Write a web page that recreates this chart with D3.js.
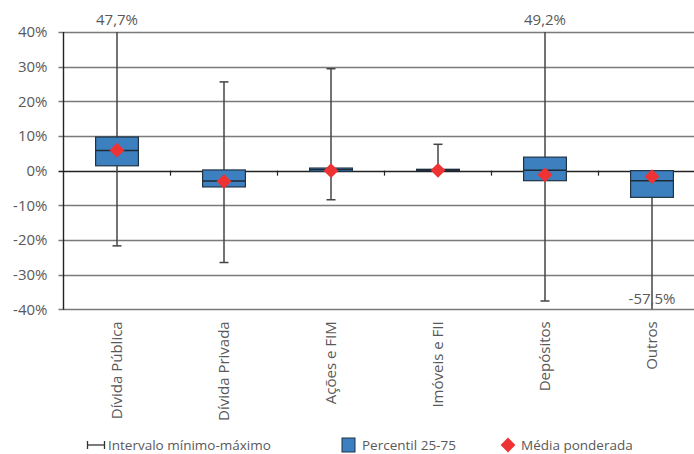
<!DOCTYPE html>
<html>
<head>
<meta charset="utf-8">
<script src="https://cdn.jsdelivr.net/npm/d3@7/dist/d3.min.js"></script>
<style>
  html, body { margin: 0; padding: 0; background: #fff; }
  svg { display: block; }
  text { font-family: "Open Sans", "Noto Sans", sans-serif; fill: #595959; }
</style>
</head>
<body>
<svg id="chart" width="694" height="454"></svg>
<script>
// Distribution of returns by asset class (%)
const categories = ["Dívida Pública", "Dívida Privada", "Ações e FIM", "Imóveis e FII", "Depósitos", "Outros"];
const minValues  = [-21.7, -26.5, -8.4, 0.0, -37.6, -57.5];
const p25Values  = [1.4, -4.7, -0.2, 0.0, -2.9, -7.7];
const medValues  = [5.8, -3.0, 0.3, 0.2, 0.1, -2.9];
const p75Values  = [9.7, 0.2, 0.75, 0.4, 3.9, 0.0];
const maxValues  = [47.7, 25.6, 29.4, 7.6, 49.2, 0.0];
const meanValues = [5.9, -3.1, 0.0, 0.1, -1.2, -1.7];
const yTicks = [-40, -30, -20, -10, 0, 10, 20, 30, 40];
const legendLabels = ["Intervalo mínimo-máximo", "Percentil 25-75", "Média ponderada"];

const rows = categories.map((c, i) => ({
  cat: c, min: minValues[i], p25: p25Values[i], med: medValues[i],
  p75: p75Values[i], max: maxValues[i], mean: meanValues[i]
}));

const svg = d3.select("#chart");
const plotLeft = 63.5, plotRight = 705.5, plotTop = 32, plotBottom = 309.3;

const x = d3.scaleBand().domain(categories).range([plotLeft, plotRight]);
const y = d3.scaleLinear().domain([-40, 40]).range([plotBottom, plotTop]);
const yc = v => y(Math.max(-40, Math.min(40, v)));
const fmt = v => v.toFixed(1).replace(".", ",") + "%";

// Horizontal gridlines
svg.append("g").selectAll("line").data(yTicks).join("line")
  .attr("x1", plotLeft - 5).attr("x2", 694)
  .attr("y1", d => Math.round(y(d)) + 0.5).attr("y2", d => Math.round(y(d)) + 0.5)
  .attr("stroke", d => d === 0 ? "#222" : "#7a7a7a")
  .attr("stroke-width", 1.4);

// Y axis labels
const yAxis = d3.axisLeft(y).tickValues(yTicks).tickSize(0).tickPadding(16)
  .tickFormat(d => d + "%");
const gy = svg.append("g").attr("transform", `translate(${plotLeft},0)`).call(yAxis);
gy.select(".domain").remove();
gy.selectAll("text").attr("font-size", 15).style("fill", "#595959")
  .attr("font-family", "'Open Sans', sans-serif");

// Y axis line
svg.append("line").attr("x1", plotLeft).attr("x2", plotLeft)
  .attr("y1", plotTop).attr("y2", plotBottom + 0.5)
  .attr("stroke", "#222").attr("stroke-width", 1.4);

// Category ticks on the zero line
const bounds = d3.range(1, categories.length).map(i => plotLeft + i * x.step());
svg.append("g").selectAll("line").data(bounds).join("line")
  .attr("x1", d => d).attr("x2", d => d)
  .attr("y1", y(0)).attr("y2", y(0) + 5)
  .attr("stroke", "#222").attr("stroke-width", 1.2);

// X labels, rotated
svg.append("g").selectAll("text").data(categories).join("text")
  .attr("transform", d => `translate(${x(d) + x.bandwidth() / 2},${plotBottom + 12}) rotate(-90)`)
  .attr("text-anchor", "end").attr("dy", "0.35em")
  .attr("font-size", 15)
  .text(d => d);

const cx = d => x(d.cat) + x.bandwidth() / 2;
const boxW = x.bandwidth() * 0.4;

// Whiskers
const g = svg.append("g");
g.selectAll(".whisker").data(rows).join("line").attr("class", "whisker")
  .attr("x1", cx).attr("x2", cx)
  .attr("y1", d => yc(d.min)).attr("y2", d => yc(d.max))
  .attr("stroke", "#444").attr("stroke-width", 1.5);

// Caps on whisker ends that fall inside the axis range
const caps = [];
rows.forEach(d => {
  if (d.max < 40 && d.max > d.p75) caps.push({ d, v: d.max });
  if (d.min > -40 && d.min < d.p25) caps.push({ d, v: d.min });
});
g.selectAll(".cap").data(caps).join("line").attr("class", "cap")
  .attr("x1", c => cx(c.d) - 4.5).attr("x2", c => cx(c.d) + 4.5)
  .attr("y1", c => y(c.v)).attr("y2", c => y(c.v))
  .attr("stroke", "#444").attr("stroke-width", 1.5);

// Interquartile boxes
g.selectAll(".box").data(rows).join("rect").attr("class", "box")
  .attr("x", d => cx(d) - boxW / 2).attr("width", boxW)
  .attr("y", d => y(d.p75)).attr("height", d => Math.max(1, y(d.p25) - y(d.p75)))
  .attr("fill", "#3d80c0").attr("stroke", "#1f3345").attr("stroke-width", 1.2);

// Medians
g.selectAll(".median").data(rows).join("line").attr("class", "median")
  .attr("x1", d => cx(d) - boxW / 2).attr("x2", d => cx(d) + boxW / 2)
  .attr("y1", d => y(d.med)).attr("y2", d => y(d.med))
  .attr("stroke", "#1f2a35").attr("stroke-width", 1.4);

// Weighted means
const diamond = d3.symbol().type(d3.symbolSquare).size(110);
g.selectAll(".mean").data(rows).join("path").attr("class", "mean")
  .attr("transform", d => `translate(${cx(d)},${y(d.mean)}) rotate(45)`)
  .attr("d", diamond)
  .attr("fill", "#ee3334");

// Labels for values beyond the axis range
const outLabels = [];
rows.forEach(d => {
  if (d.max > 40) outLabels.push({ d, v: d.max, ypos: plotTop - 12 });
  if (d.min < -40) outLabels.push({ d, v: d.min, ypos: plotBottom - 11 });
});
svg.append("g").selectAll("text").data(outLabels).join("text")
  .attr("x", o => cx(o.d)).attr("y", o => o.ypos)
  .attr("text-anchor", "middle").attr("dy", "0.35em")
  .attr("font-size", 15)
  .text(o => fmt(o.v));

// Legend
const lg = svg.append("g").attr("transform", "translate(0,445)");
lg.append("line").attr("x1", 87).attr("x2", 105).attr("y1", 0).attr("y2", 0)
  .attr("stroke", "#333").attr("stroke-width", 1.3);
lg.append("line").attr("x1", 87.5).attr("x2", 87.5).attr("y1", -4).attr("y2", 4)
  .attr("stroke", "#333").attr("stroke-width", 1.3);
lg.append("line").attr("x1", 104.5).attr("x2", 104.5).attr("y1", -4).attr("y2", 4)
  .attr("stroke", "#333").attr("stroke-width", 1.3);
lg.append("text").attr("x", 108).attr("dy", "0.35em").attr("font-size", 13.5).text(legendLabels[0]);

lg.append("rect").attr("x", 342).attr("y", -7).attr("width", 13).attr("height", 14)
  .attr("fill", "#3d80c0").attr("stroke", "#1f3345").attr("stroke-width", 1);
lg.append("text").attr("x", 362).attr("dy", "0.35em").attr("font-size", 13.5).text(legendLabels[1]);

lg.append("path").attr("transform", "translate(508,0) rotate(45)")
  .attr("d", diamond)
  .attr("fill", "#ee3334");
lg.append("text").attr("x", 521).attr("dy", "0.35em").attr("font-size", 13.5).text(legendLabels[2]);
</script>
</body>
</html>
